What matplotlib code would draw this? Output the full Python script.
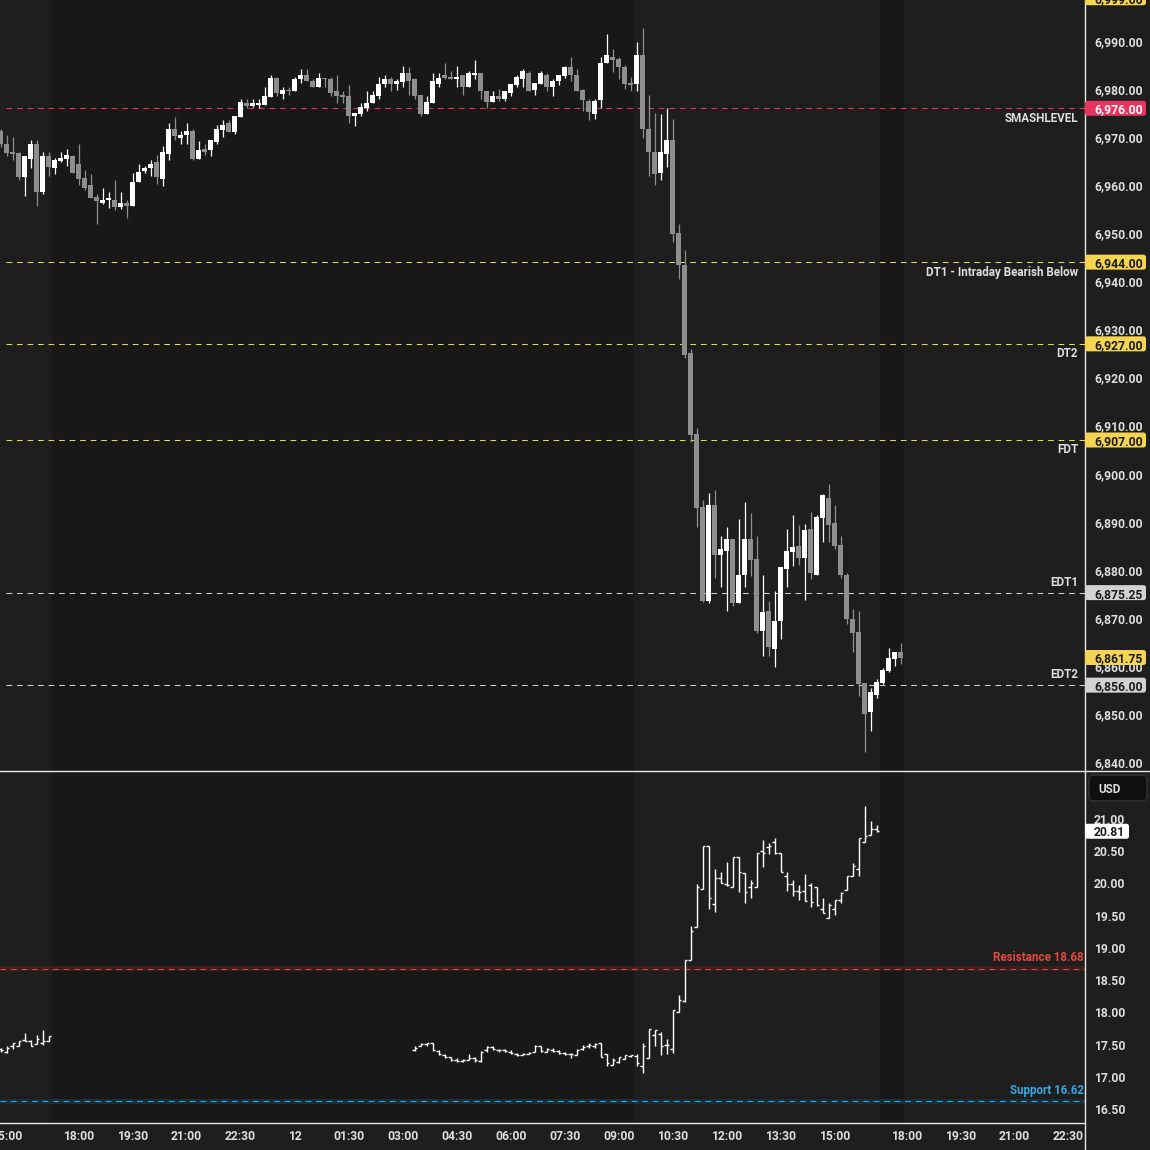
import numpy as np
import pandas as pd
import matplotlib
matplotlib.use("Agg")
import matplotlib.pyplot as plt
from matplotlib.patches import FancyBboxPatch
from matplotlib.lines import Line2D
from matplotlib.ticker import FuncFormatter

plt.rcParams["font.family"] = ["Roboto", "DejaVu Sans"]
plt.rcParams["font.weight"] = "semibold"

# ---------------- data ----------------
# 10 minute bars, the 17:00-18:00 maintenance break is skipped by the time axis
times = pd.date_range("2025-12-11 14:50", "2025-12-12 23:50", freq="10min")
times = times[times.hour != 17]

es_first_bar = "2025-12-11 14:50"
es_open = [
    6971.25, 6968.5, 6967.0, 6966.75, 6961.75, 6965.5, 6968.5, 6958.5, 6966.0, 6963.5, 6965.0, 6965.5, 6966.0,
    6964.5, 6961.5, 6960.0, 6957.5, 6956.25, 6957.0, 6957.0, 6955.5, 6956.25, 6955.75,
    6960.75, 6963.0, 6963.5, 6964.75, 6961.25, 6966.5, 6971.75, 6969.75, 6970.5, 6971.25,
    6965.5, 6967.5, 6967.25, 6969.0, 6971.5, 6973.0, 6971.0, 6974.25, 6977.0, 6976.5,
    6976.75, 6976.75, 6978.25, 6982.25, 6979.0, 6979.75, 6979.5, 6982.0, 6983.0, 6981.75,
    6980.5, 6982.25, 6982.0, 6979.5, 6978.75, 6978.5, 6974.5, 6974.75, 6976.0, 6977.0,
    6978.5, 6981.0, 6982.0, 6981.0, 6981.5, 6983.25, 6982.0, 6978.75, 6974.75, 6977.0,
    6981.0, 6983.0, 6982.5, 6982.0, 6983.0, 6980.5, 6983.0, 6983.25, 6979.5, 6977.25,
    6978.5, 6978.0, 6979.25, 6980.75, 6982.0, 6983.25, 6979.75, 6981.0, 6983.0, 6980.5,
    6981.75, 6982.75, 6984.5, 6983.0, 6979.75, 6977.5, 6974.75, 6977.75, 6985.5, 6986.75,
    6986.25, 6984.5, 6981.25, 6981.0, 6987.0, 6971.75, 6967.0, 6962.5, 6966.5, 6969.5,
    6950.0, 6943.5, 6925.0, 6908.25, 6893.0, 6873.5, 6893.5, 6883.0, 6884.0, 6886.5,
    6873.0, 6879.0, 6886.5, 6882.25, 6867.25, 6871.5, 6863.5, 6869.25, 6880.25, 6883.75,
    6885.0, 6882.5, 6888.5, 6879.0, 6890.75, 6895.0, 6889.75, 6885.25, 6879.0, 6869.75,
    6867.0, 6856.5, 6850.5, 6854.0, 6856.5, 6859.0, 6861.5, 6863.0,
]
es_high = [
    6971.75, 6970.5, 6970.0, 6967.0, 6966.0, 6969.5, 6969.5, 6967.0, 6967.0, 6965.75, 6967.0, 6967.5, 6966.25,
    6968.5, 6963.25, 6962.25, 6958.25, 6959.5, 6958.5, 6961.0, 6958.5, 6957.0, 6962.5,
    6964.5, 6964.0, 6965.25, 6966.25, 6968.25, 6973.0, 6974.25, 6971.25, 6973.0, 6971.75,
    6969.25, 6968.5, 6969.5, 6972.5, 6973.5, 6973.5, 6974.5, 6978.0, 6978.0, 6978.0,
    6978.0, 6980.5, 6983.0, 6982.5, 6980.5, 6980.5, 6982.5, 6984.25, 6984.25, 6982.0,
    6983.25, 6982.25, 6982.5, 6983.0, 6979.5, 6980.75, 6975.0, 6977.0, 6979.5, 6979.5,
    6982.5, 6983.0, 6982.5, 6982.0, 6984.75, 6984.5, 6982.25, 6978.75, 6978.5, 6983.25,
    6983.25, 6985.5, 6983.75, 6984.75, 6983.0, 6983.75, 6986.0, 6983.25, 6979.5, 6979.5,
    6980.0, 6979.5, 6981.0, 6983.0, 6984.25, 6983.75, 6981.25, 6983.75, 6983.25, 6982.0,
    6983.0, 6984.75, 6986.75, 6984.25, 6980.0, 6978.0, 6978.0, 6986.75, 6991.5, 6988.25,
    6986.75, 6985.0, 6982.5, 6989.75, 6992.75, 6978.75, 6975.0, 6974.75, 6976.0, 6973.75,
    6952.0, 6946.5, 6926.0, 6909.5, 6894.5, 6896.0, 6896.5, 6887.0, 6889.0, 6886.5,
    6890.5, 6894.0, 6891.75, 6887.0, 6879.0, 6873.5, 6875.5, 6880.5, 6888.5, 6891.5,
    6889.25, 6889.5, 6892.0, 6891.5, 6895.75, 6897.75, 6893.5, 6887.0, 6879.25, 6871.75,
    6871.5, 6856.5, 6855.5, 6857.25, 6859.5, 6863.75, 6863.0, 6864.75,
]
es_low = [
    6968.0, 6966.0, 6965.25, 6961.0, 6957.75, 6963.5, 6955.75, 6958.25, 6962.0, 6962.25, 6964.75, 6964.0, 6962.5,
    6960.0, 6959.0, 6957.25, 6952.0, 6956.0, 6955.25, 6954.75, 6955.0, 6953.25, 6955.75,
    6960.75, 6962.5, 6962.0, 6960.25, 6959.75, 6965.25, 6969.5, 6968.5, 6968.5, 6965.25,
    6965.5, 6966.25, 6966.0, 6968.5, 6970.0, 6971.0, 6970.75, 6974.25, 6976.0, 6976.25,
    6976.0, 6976.75, 6978.25, 6978.5, 6978.0, 6978.75, 6979.5, 6981.25, 6981.75, 6980.5,
    6980.5, 6980.5, 6978.5, 6977.0, 6977.0, 6973.0, 6972.25, 6974.5, 6975.5, 6977.0,
    6978.0, 6980.5, 6979.5, 6979.75, 6980.5, 6978.75, 6978.0, 6974.5, 6974.75, 6977.0,
    6980.5, 6982.0, 6982.0, 6980.5, 6978.75, 6980.5, 6982.0, 6978.0, 6976.0, 6977.25,
    6977.5, 6977.5, 6978.5, 6980.5, 6980.5, 6979.5, 6978.75, 6981.0, 6979.5, 6978.5,
    6980.75, 6982.25, 6981.75, 6979.5, 6975.5, 6973.5, 6973.75, 6976.0, 6985.5, 6983.5,
    6982.0, 6980.0, 6979.5, 6979.5, 6969.75, 6962.0, 6960.0, 6961.0, 6963.75, 6948.25,
    6940.5, 6924.0, 6906.5, 6889.0, 6873.25, 6873.0, 6878.25, 6876.5, 6871.5, 6872.5,
    6873.0, 6876.5, 6878.75, 6866.75, 6862.0, 6862.0, 6859.75, 6865.5, 6876.5, 6880.75,
    6881.0, 6873.75, 6878.0, 6879.0, 6885.75, 6885.75, 6884.25, 6878.25, 6868.75, 6863.0,
    6853.75, 6842.0, 6846.5, 6853.25, 6856.25, 6858.75, 6860.0, 6860.5,
]
es_close = [
    6968.5, 6966.75, 6966.5, 6961.75, 6966.0, 6968.5, 6958.5, 6966.0, 6963.75, 6965.25, 6965.75, 6966.25, 6962.5,
    6961.25, 6959.5, 6957.25, 6956.75, 6957.0, 6957.25, 6955.5, 6956.25, 6955.75, 6960.75,
    6962.75, 6963.5, 6964.5, 6961.75, 6967.0, 6971.75, 6970.25, 6970.5, 6971.25, 6965.5,
    6967.25, 6967.0, 6969.5, 6971.75, 6972.5, 6971.0, 6974.5, 6977.25, 6976.5, 6977.0,
    6977.0, 6978.5, 6982.25, 6979.25, 6979.75, 6979.5, 6982.0, 6983.0, 6981.75, 6980.5,
    6982.25, 6982.0, 6979.25, 6978.5, 6978.25, 6974.5, 6975.0, 6976.25, 6977.0, 6978.75,
    6981.0, 6982.0, 6981.0, 6981.75, 6983.25, 6981.75, 6978.5, 6974.75, 6977.25, 6981.75,
    6982.25, 6982.25, 6982.0, 6982.5, 6980.5, 6983.25, 6983.25, 6979.5, 6977.25, 6978.5,
    6978.0, 6979.5, 6981.0, 6982.5, 6983.75, 6979.5, 6981.25, 6983.25, 6980.5, 6981.75,
    6983.0, 6984.5, 6983.0, 6979.5, 6977.75, 6975.25, 6977.5, 6985.5, 6987.0, 6986.0,
    6984.5, 6981.0, 6980.75, 6987.0, 6971.75, 6967.0, 6962.25, 6967.0, 6969.5, 6949.75,
    6943.5, 6924.75, 6908.0, 6892.75, 6873.5, 6893.5, 6883.0, 6884.25, 6886.5, 6873.0,
    6879.0, 6886.5, 6882.0, 6867.25, 6871.25, 6864.0, 6869.25, 6880.5, 6884.0, 6884.75,
    6882.5, 6888.25, 6879.25, 6891.0, 6895.5, 6889.25, 6885.0, 6879.0, 6869.75, 6866.75,
    6856.25, 6850.0, 6854.5, 6856.75, 6859.25, 6861.75, 6863.0, 6861.75,
]

# VIX, first block ends at the 16:15 close, second block starts at 03:15
vix_a_first_bar = "2025-12-11 14:50"
vix_a_open = [17.43, 17.38, 17.47, 17.47, 17.57, 17.55, 17.51, 17.52, 17.56]
vix_a_high = [17.44, 17.48, 17.53, 17.56, 17.68, 17.57, 17.65, 17.72, 17.64]
vix_a_low = [17.38, 17.37, 17.43, 17.47, 17.55, 17.47, 17.51, 17.49, 17.56]
vix_a_close = [17.41, 17.45, 17.52, 17.55, 17.56, 17.47, 17.59, 17.56, 17.64]

vix_b_first_bar = "2025-12-12 03:20"
vix_b_open = [
    17.41, 17.48, 17.51, 17.52, 17.40, 17.34, 17.30, 17.26, 17.24, 17.26, 17.29, 17.24, 17.41, 17.46, 17.41, 17.41,
    17.39, 17.36, 17.34, 17.35, 17.39, 17.47, 17.39, 17.41, 17.40, 17.37, 17.35, 17.34, 17.43, 17.47, 17.47,
    17.52, 17.35, 17.19, 17.23, 17.27, 17.32, 17.32, 17.16, 17.29, 17.65, 17.67, 17.49, 17.43, 18.00, 18.17, 18.81,
    19.32, 19.91, 20.58, 19.68, 20.08, 19.99, 19.94, 20.41, 20.16, 19.95, 19.95, 20.51, 20.57, 20.65, 20.47, 20.12,
    19.99, 19.88, 19.88, 19.98, 19.94, 19.61, 19.47, 19.61, 19.74, 19.90, 20.12, 20.22, 20.65, 20.75, 20.84,
]
vix_b_high = [
    17.47, 17.52, 17.53, 17.52, 17.41, 17.35, 17.30, 17.29, 17.27, 17.35, 17.30, 17.40, 17.47, 17.47, 17.43, 17.43,
    17.41, 17.37, 17.37, 17.39, 17.49, 17.47, 17.44, 17.44, 17.41, 17.39, 17.37, 17.43, 17.49, 17.52, 17.52,
    17.53, 17.35, 17.29, 17.30, 17.33, 17.34, 17.35, 17.52, 17.74, 17.73, 17.70, 17.58, 18.04, 18.27, 18.81, 19.34,
    19.99, 20.58, 20.58, 20.22, 20.17, 20.33, 20.41, 20.41, 20.16, 20.06, 20.47, 20.67, 20.63, 20.70, 20.47, 20.18,
    20.05, 19.98, 20.15, 20.00, 19.94, 19.77, 19.69, 19.74, 19.87, 20.11, 20.32, 20.70, 21.20, 20.97, 20.91,
]
vix_b_low = [
    17.40, 17.47, 17.48, 17.40, 17.34, 17.29, 17.25, 17.23, 17.23, 17.26, 17.23, 17.23, 17.39, 17.41, 17.39, 17.39,
    17.35, 17.32, 17.34, 17.35, 17.39, 17.39, 17.39, 17.39, 17.35, 17.34, 17.29, 17.34, 17.41, 17.44, 17.45,
    17.30, 17.16, 17.19, 17.22, 17.27, 17.31, 17.16, 17.06, 17.29, 17.47, 17.34, 17.35, 17.37, 18.00, 18.16, 18.81,
    19.32, 19.91, 19.61, 19.55, 20.00, 19.96, 19.94, 19.86, 19.69, 19.78, 19.95, 20.26, 20.46, 20.46, 20.17, 19.89,
    19.80, 19.75, 19.72, 19.63, 19.65, 19.54, 19.47, 19.51, 19.70, 19.90, 20.12, 20.12, 20.65, 20.75, 20.80,
]
vix_b_close = [
    17.44, 17.51, 17.52, 17.41, 17.35, 17.31, 17.26, 17.25, 17.26, 17.29, 17.26, 17.39, 17.46, 17.43, 17.41, 17.40,
    17.37, 17.34, 17.35, 17.37, 17.47, 17.40, 17.43, 17.40, 17.37, 17.35, 17.35, 17.41, 17.46, 17.49, 17.51,
    17.30, 17.21, 17.26, 17.30, 17.33, 17.34, 17.21, 17.47, 17.74, 17.72, 17.47, 17.49, 18.04, 18.19, 18.81, 19.26,
    19.94, 20.58, 19.77, 20.08, 20.01, 19.98, 20.41, 20.18, 19.87, 20.00, 20.47, 20.47, 20.58, 20.47, 20.17, 19.99,
    19.88, 19.87, 19.73, 19.71, 19.67, 19.54, 19.67, 19.74, 19.85, 20.11, 20.27, 20.70, 20.73, 20.84, 20.81,
]

level_prices = [6976.00, 6944.00, 6927.00, 6907.00, 6875.25, 6856.00]
level_names = ["SMASHLEVEL", "DT1 - Intraday Bearish Below", "DT2", "FDT", "EDT1", "EDT2"]
level_kinds = ["smash", "dt", "dt", "dt", "edt", "edt"]
offscreen_level = 6999.00
es_last = 6861.75

resistance = 18.68
support = 16.62
vix_last = 20.81

xtick_times = [
    "2025-12-11 15:00", "2025-12-11 18:00", "2025-12-11 19:30", "2025-12-11 21:00", "2025-12-11 22:30",
    "2025-12-12 00:00", "2025-12-12 01:30", "2025-12-12 03:00", "2025-12-12 04:30", "2025-12-12 06:00",
    "2025-12-12 07:30", "2025-12-12 09:00", "2025-12-12 10:30", "2025-12-12 12:00", "2025-12-12 13:30",
    "2025-12-12 15:00", "2025-12-12 18:00", "2025-12-12 19:30", "2025-12-12 21:00", "2025-12-12 22:30",
]
xtick_labels = ["15:00", "18:00", "19:30", "21:00", "22:30", "12", "01:30", "03:00", "04:30", "06:00",
                "07:30", "09:00", "10:30", "12:00", "13:30", "15:00", "18:00", "19:30", "21:00", "22:30"]

# extended hours (darker background)
eth_sessions = [("2025-12-11 16:20", "2025-12-12 09:30"), ("2025-12-12 16:20", "2025-12-12 18:00")]

# ---------------- style ----------------
BG = "#1e1e1e"
ETH_BG = "#181818"
UP = "#ffffff"
DOWN = "#8e8e8e"
TXT = "#dedede"
LINE = "#e6e6e6"
LEVEL_COLORS = {"smash": "#e8345f", "dt": "#f5d451", "edt": "#d2d2d2"}
BOX_TEXT = {"smash": "#ffffff", "dt": "#1a1a1a", "edt": "#1a1a1a"}
DASH = (0, (5.5, 4.6))

W, H = 1150, 1150
PANE_RIGHT = 1085
BAR_PX = 6


def pos(t):
    return times.get_loc(pd.Timestamp(t))


def fig_rect(x0, y0, x1, y1):
    return [x0 / W, 1 - y1 / H, (x1 - x0) / W, (y1 - y0) / H]


def draw_candles(ax, x, o, h, l, c):
    o, h, l, c = map(np.asarray, (o, h, l, c))
    colors = np.where(c >= o, UP, DOWN)
    ax.vlines(x, l, h, colors=colors, linewidth=0.9, zorder=3)
    bottom = np.minimum(o, c)
    height = np.maximum(np.abs(c - o), 0.25)
    ax.bar(x, height, bottom=bottom, width=0.78, color=colors, linewidth=0, zorder=4)


def draw_ohlc(ax, x, o, h, l, c):
    ax.vlines(x, l, h, colors=UP, linewidth=1.0, zorder=3)
    ax.hlines(o, x - 0.42, x, colors=UP, linewidth=1.0, zorder=3)
    ax.hlines(c, x, x + 0.42, colors=UP, linewidth=1.0, zorder=3)


def price_box(fig, ax, value, label, fc, tc, x1=1146):
    y = ax.transData.transform((0, value))[1]
    box = FancyBboxPatch((PANE_RIGHT / W, (y - 7.5) / H), (x1 - PANE_RIGHT) / W, 15 / H,
                         boxstyle="round,pad=0,rounding_size=0.0022", transform=fig.transFigure,
                         fc=fc, ec="none", zorder=5)
    fig.add_artist(box)
    fig.text(1094 / W, y / H, label, ha="left", va="center_baseline", color=tc, fontsize=8.7, zorder=6)


fig = plt.figure(figsize=(W / 100, H / 100), dpi=100, facecolor=BG)
ax1 = fig.add_axes(fig_rect(0, 0, PANE_RIGHT, 770))
ax2 = fig.add_axes(fig_rect(0, 771, PANE_RIGHT, 1122))

xlim = (-0.1, -0.1 + PANE_RIGHT / BAR_PX)
for ax in (ax1, ax2):
    ax.set_facecolor(BG)
    ax.set_xlim(*xlim)
    for s in ax.spines.values():
        s.set_visible(False)
    for a, b in eth_sessions:
        ax.axvspan(pos(a) - 0.5, pos(b) - 0.5, color=ETH_BG, lw=0, zorder=0)
    ax.yaxis.tick_right()
    ax.tick_params(axis="y", length=0, pad=6.5, labelsize=8.7, labelcolor=TXT)

# ---- ES pane ----
es_x = pos(es_first_bar) + np.arange(len(es_open))
draw_candles(ax1, es_x, es_open, es_high, es_low, es_close)
ax1.set_ylim(6838.35, 6998.53)
ax1.set_yticks(np.arange(6840, 6991, 10))
ax1.yaxis.set_major_formatter(FuncFormatter(lambda v, _: f"{v:,.2f}"))
ax1.set_xticks([])

for p, name, kind in zip(level_prices, level_names, level_kinds):
    ax1.axhline(p, xmin=6 / PANE_RIGHT, color=LEVEL_COLORS[kind], lw=0.75, ls=DASH, zorder=2)
    dy = 7.6 if kind == "edt" else -7.2
    ax1.annotate(name, xy=(1 - 7 / PANE_RIGHT, p), xycoords=("axes fraction", "data"),
                 xytext=(0, dy), textcoords="offset points", ha="right", va="center",
                 fontsize=8.4, color=TXT)

# ---- VIX pane ----
xa = pos(vix_a_first_bar) + np.arange(len(vix_a_open))
xb = pos(vix_b_first_bar) + np.arange(len(vix_b_open))
draw_ohlc(ax2, xa, vix_a_open, vix_a_high, vix_a_low, vix_a_close)
draw_ohlc(ax2, xb, vix_b_open, vix_b_high, vix_b_low, vix_b_close)
ax2.set_ylim(16.298, 21.745)
ax2.set_yticks(np.arange(16.5, 21.01, 0.5))
ax2.yaxis.set_major_formatter(FuncFormatter(lambda v, _: f"{v:.2f}"))

ax2.axhspan(resistance - 0.037, resistance + 0.037, color="#3a1f1f", lw=0, zorder=1)
ax2.axhline(resistance, color="#e5453c", lw=0.75, ls=DASH, zorder=2)
ax2.axhspan(support - 0.037, support + 0.037, color="#1b2d37", lw=0, zorder=1)
ax2.axhline(support, color="#23aef2", lw=0.75, ls=DASH, zorder=2)
ax2.annotate(f"Resistance {resistance:.2f}", xy=(1 - 1 / PANE_RIGHT, resistance),
             xycoords=("axes fraction", "data"), xytext=(0, 8), textcoords="offset points",
             ha="right", va="center", fontsize=8.4, color="#e5483f")
ax2.annotate(f"Support {support:.2f}", xy=(1 - 1 / PANE_RIGHT, support),
             xycoords=("axes fraction", "data"), xytext=(0, 8), textcoords="offset points",
             ha="right", va="center", fontsize=8.4, color="#3aa8e2")

ax2.set_xticks([pos(t) for t in xtick_times])
ax2.set_xticklabels(xtick_labels)
ax2.tick_params(axis="x", length=0, pad=6, labelsize=8.7, labelcolor=TXT)

# ---- frame lines ----
fig.add_artist(Line2D([PANE_RIGHT / W] * 2, [0, 1], color=LINE, lw=1.0, transform=fig.transFigure))
fig.add_artist(Line2D([0, 1], [1 - 770.5 / H] * 2, color=LINE, lw=1.0, transform=fig.transFigure))
fig.add_artist(Line2D([0, PANE_RIGHT / W], [1 - 1122.5 / H] * 2, color=LINE, lw=1.0,
                      transform=fig.transFigure))

# ---- price scale labels ----
price_box(fig, ax1, offscreen_level, f"{offscreen_level:,.2f}", LEVEL_COLORS["dt"], BOX_TEXT["dt"])
for p, kind in zip(level_prices, level_kinds):
    price_box(fig, ax1, p, f"{p:,.2f}", LEVEL_COLORS[kind], BOX_TEXT[kind])
price_box(fig, ax1, es_last, f"{es_last:,.2f}", LEVEL_COLORS["dt"], "#1a1a1a")
price_box(fig, ax2, vix_last, f"{vix_last:.2f}", "#ffffff", "#1a1a1a", x1=1129)

usd = FancyBboxPatch((1089 / W, 1 - 801 / H), 58 / W, 26 / H, boxstyle="round,pad=0,rounding_size=0.004",
                     transform=fig.transFigure, fc="#0f0f0f", ec="#333333", lw=1.0, zorder=5)
fig.add_artist(usd)
fig.text(1098 / W, 1 - 788 / H, "USD", ha="left", va="center_baseline", color=TXT, fontsize=8.5, zorder=6)

fig.savefig("out.png", dpi=100, facecolor=BG)
